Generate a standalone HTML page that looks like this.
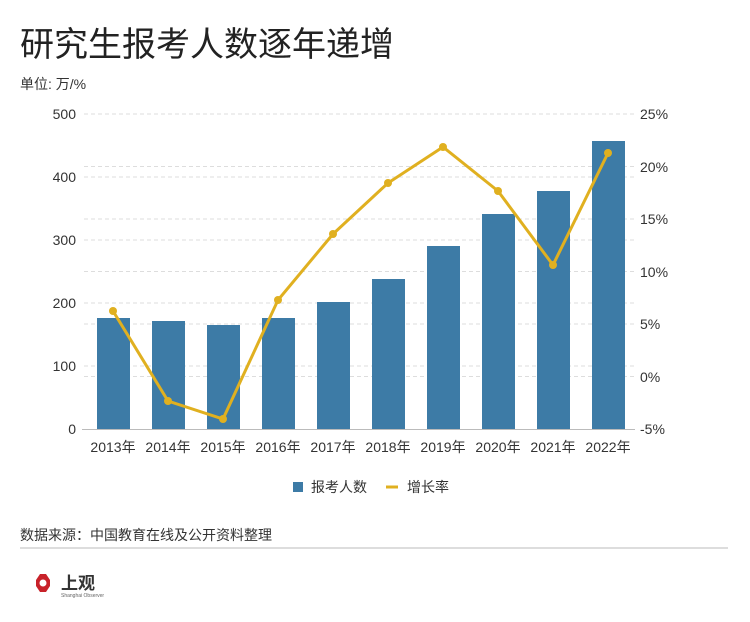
<!DOCTYPE html><html><head><meta charset="utf-8"><style>body{margin:0;background:#fff;font-family:"Liberation Sans","Noto Sans CJK SC",sans-serif}</style></head><body>
<svg width="750" height="617" xmlns="http://www.w3.org/2000/svg" font-family="Liberation Sans, Noto Sans CJK SC, sans-serif">
<text x="20" y="56" font-size="34" fill="#222">研究生报考人数逐年递增</text>
<text x="20" y="89" font-size="14" fill="#333">单位: 万/%</text>
<g stroke="#ddd" stroke-dasharray="4,3" stroke-width="1">
<line x1="84" x2="635" y1="114" y2="114"/><line x1="84" x2="635" y1="177" y2="177"/><line x1="84" x2="635" y1="240" y2="240"/><line x1="84" x2="635" y1="303" y2="303"/><line x1="84" x2="635" y1="366" y2="366"/>
<line x1="84" x2="635" y1="166.5" y2="166.5"/><line x1="84" x2="635" y1="219" y2="219"/><line x1="84" x2="635" y1="271.5" y2="271.5"/><line x1="84" x2="635" y1="324" y2="324"/><line x1="84" x2="635" y1="376.5" y2="376.5"/>
</g>
<line x1="82" x2="635" y1="429.5" y2="429.5" stroke="#bbb"/>
<g font-size="14" fill="#333" text-anchor="end">
<text x="76" y="119">500</text><text x="76" y="182">400</text><text x="76" y="245">300</text><text x="76" y="308">200</text><text x="76" y="371">100</text><text x="76" y="434">0</text></g>
<g font-size="14" fill="#333">
<text x="640" y="119">25%</text><text x="640" y="172">20%</text><text x="640" y="224">15%</text><text x="640" y="277">10%</text><text x="640" y="329">5%</text><text x="640" y="382">0%</text><text x="640" y="434">-5%</text></g>
<g fill="#3d7ba6">
<rect x="97" y="318" width="33" height="111"/><rect x="152" y="321" width="33" height="108"/><rect x="207" y="325" width="33" height="104"/><rect x="262" y="318" width="33" height="111"/><rect x="317" y="302" width="33" height="127"/><rect x="372" y="279" width="33" height="150"/><rect x="427" y="246" width="33" height="183"/><rect x="482" y="214" width="33" height="215"/><rect x="537" y="191" width="33" height="238"/><rect x="592" y="141" width="33" height="288"/></g>
<g font-size="14" fill="#333" text-anchor="middle">
<text x="113" y="452">2013年</text><text x="168" y="452">2014年</text><text x="223" y="452">2015年</text><text x="278" y="452">2016年</text><text x="333" y="452">2017年</text><text x="388" y="452">2018年</text><text x="443" y="452">2019年</text><text x="498" y="452">2020年</text><text x="553" y="452">2021年</text><text x="608" y="452">2022年</text></g>
<polyline fill="none" stroke="#e0b020" stroke-width="3" points="113,311 168,401 223,419 278,300 333,234 388,183 443,147 498,191 553,265 608,153"/>
<g fill="#e0b020"><circle cx="113" cy="311" r="4"/><circle cx="168" cy="401" r="4"/><circle cx="223" cy="419" r="4"/><circle cx="278" cy="300" r="4"/><circle cx="333" cy="234" r="4"/><circle cx="388" cy="183" r="4"/><circle cx="443" cy="147" r="4"/><circle cx="498" cy="191" r="4"/><circle cx="553" cy="265" r="4"/><circle cx="608" cy="153" r="4"/></g>
<rect x="293" y="482" width="10" height="10" fill="#3d7ba6"/><text x="311" y="492" font-size="14" fill="#333">报考人数</text>
<line x1="386" x2="398" y1="487" y2="487" stroke="#e0b020" stroke-width="3"/><text x="407" y="492" font-size="14" fill="#333">增长率</text>
<text x="20" y="540" font-size="14" fill="#333">数据来源：中国教育在线及公开资料整理</text>
<line x1="20" x2="728" y1="548" y2="548" stroke="#ddd" stroke-width="2"/>
<polygon points="40,574 46,574 50,580 50,586 46,592 40,592 36,586 36,580" fill="#c8222a"/><circle cx="43" cy="583" r="3.5" fill="#fff"/>
<text x="61" y="589" font-size="17" fill="#333" font-weight="bold">上观</text>
<text x="61" y="597" font-size="5" fill="#666">Shanghai Observer</text>
</svg></body></html>
